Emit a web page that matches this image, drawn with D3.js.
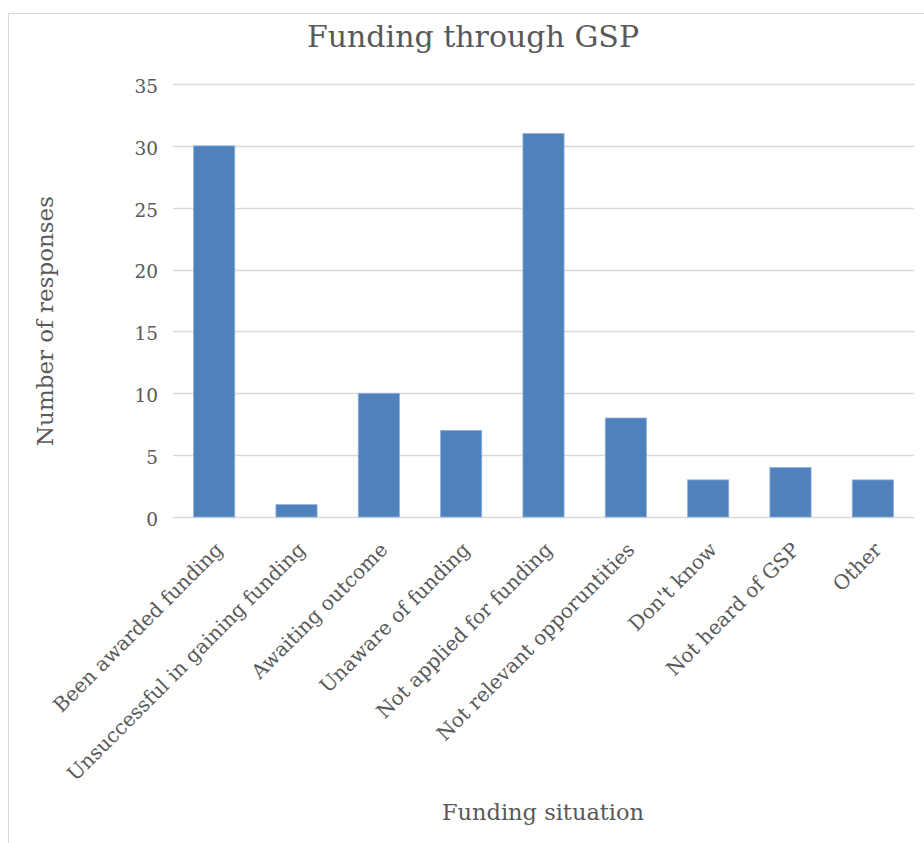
<!DOCTYPE html>
<html><head><meta charset="utf-8">
<script src="https://cdn.jsdelivr.net/npm/d3@7/dist/d3.min.js"></script>
<style>body{margin:0;background:#fff}svg{display:block}</style>
</head><body><svg id="c" width="924" height="843"></svg>
<script>
const categories = ["Been awarded funding","Unsuccessful in gaining funding","Awaiting outcome","Unaware of funding","Not applied for funding","Not relevant opporuntities","Don't know","Not heard of GSP","Other"];
const values = [30,1,10,7,31,8,3,4,3];
const yTicks = [0,5,10,15,20,25,30,35];
const title = "Funding through GSP";
const xTitle = "Funding situation";
const yTitle = "Number of responses";

const FONT = "'DejaVu Serif', 'Liberation Serif', serif";
const svg = d3.select("#c");
svg.append("rect").attr("x",8.5).attr("y",13.5).attr("width",930).attr("height",850)
  .attr("fill","#fff").attr("stroke","#d9d9d9").attr("stroke-width",1);

const m = {left:173, right:914, top:84, bottom:517};
const x = d3.scaleBand().domain(categories).range([m.left,m.right]).paddingInner(0.5).paddingOuter(0.25);
const y = d3.scaleLinear().domain([0,35]).range([m.bottom,m.top]);

// gridlines
svg.append("g").selectAll("line").data(yTicks).join("line")
  .attr("x1",m.left).attr("x2",m.right).attr("y1",d=>Math.round(y(d))+0.5).attr("y2",d=>Math.round(y(d))+0.5)
  .attr("stroke","#d9d9d9").attr("stroke-width",1.5);

// y axis
const ya = svg.append("g").attr("transform",`translate(158,0)`)
  .call(d3.axisLeft(y).tickValues(yTicks).tickSize(0).tickPadding(0));
ya.select(".domain").remove();
ya.selectAll("text").attr("font-family",FONT).attr("font-size",18.5).attr("fill","#595959").attr("dy","0.45em");

// bars
svg.append("g").selectAll("rect").data(values).join("rect")
  .attr("x",(d,i)=>x(categories[i])).attr("width",x.bandwidth())
  .attr("y",d=>y(d)).attr("height",d=>y(0)-y(d))
  .attr("fill","#4f81bd").attr("stroke","#8fb0dc").attr("stroke-width",0.8);

// x axis labels
const xa = svg.append("g").attr("transform",`translate(0,${m.bottom})`)
  .call(d3.axisBottom(x).tickSize(0).tickPadding(0));
xa.select(".domain").remove();
xa.selectAll("text").attr("font-family",FONT).attr("font-size",20).attr("fill","#595959")
  .attr("text-anchor","end").attr("dy",null).attr("y",0)
  .attr("transform","translate(10,34) rotate(-45)");

// titles
svg.append("text").attr("x",473).attr("y",47).attr("text-anchor","middle")
  .attr("font-family",FONT).attr("font-size",30).attr("fill","#595959").text(title);
svg.append("text").attr("x",543).attr("y",820).attr("text-anchor","middle")
  .attr("font-family",FONT).attr("font-size",22.5).attr("fill","#595959").text(xTitle);
svg.append("text").attr("transform","translate(53,321) rotate(-90)").attr("text-anchor","middle")
  .attr("font-family",FONT).attr("font-size",23).attr("fill","#595959").text(yTitle);
</script></body></html>
